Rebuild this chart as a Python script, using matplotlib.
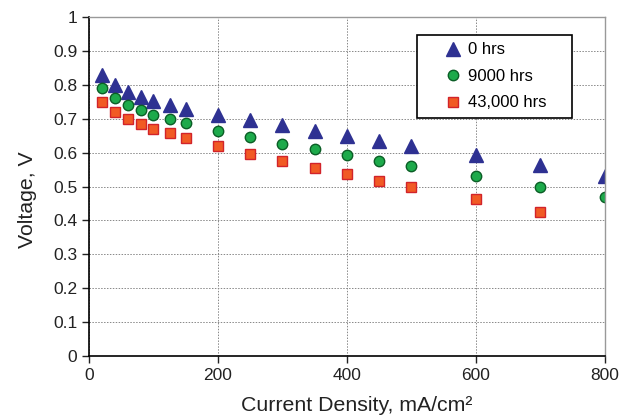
import matplotlib
matplotlib.use("Agg")
import matplotlib.pyplot as plt
from matplotlib.legend_handler import HandlerLine2D

plt.rcParams['font.family'] = ['Liberation Sans', 'DejaVu Sans']

current = [20, 40, 60, 80, 100, 125, 150, 200, 250, 300, 350, 400, 450, 500, 600, 700, 800]
v_0hrs = [0.83, 0.80, 0.78, 0.765, 0.752, 0.74, 0.73, 0.71, 0.695, 0.68, 0.663, 0.648, 0.635, 0.62, 0.592, 0.562, 0.53]
v_9000hrs = [0.79, 0.76, 0.74, 0.725, 0.71, 0.70, 0.686, 0.665, 0.645, 0.625, 0.61, 0.592, 0.576, 0.56, 0.531, 0.50, 0.469]
current_43k = [20, 40, 60, 80, 100, 125, 150, 200, 250, 300, 350, 400, 450, 500, 600, 700]
v_43000hrs = [0.75, 0.72, 0.70, 0.685, 0.67, 0.657, 0.643, 0.62, 0.595, 0.575, 0.555, 0.537, 0.517, 0.50, 0.463, 0.424]

fig = plt.figure(figsize=(6.34, 4.18), dpi=100)
ax = fig.add_axes([0.1404, 0.1483, 0.954 - 0.1404, 0.9593 - 0.1483])

l1, = ax.plot(current, v_0hrs, linestyle='none', marker='^', markersize=9.5,
              color='#2E3192', markeredgecolor='#2E3192', label='0 hrs')
l2, = ax.plot(current, v_9000hrs, linestyle='none', marker='o', markersize=7.5,
              color='#1DAA4B', markeredgecolor='#0B5E26', markeredgewidth=1.0, label='9000 hrs')
l3, = ax.plot(current_43k, v_43000hrs, linestyle='none', marker='s', markersize=7.5,
              color='#F15A24', markeredgecolor='#D2232A', markeredgewidth=1.0, label='43,000 hrs')

ax.set_xlim(0, 800)
ax.set_ylim(0, 1)
ax.set_xticks([0, 200, 400, 600, 800])
ax.set_yticks([i / 10 for i in range(11)])
ax.set_yticklabels(['0', '0.1', '0.2', '0.3', '0.4', '0.5', '0.6', '0.7', '0.8', '0.9', '1'])
ax.grid(True, linestyle=(0, (1.5, 1.5)), color='#888888', linewidth=0.7)
ax.set_axisbelow(True)

ax.tick_params(direction='out', length=5, width=1, labelsize=12.5, colors='#222222')
for s in ['left', 'bottom']:
    ax.spines[s].set_color('black')
    ax.spines[s].set_linewidth(1.2)
for s in ['top', 'right']:
    ax.spines[s].set_color('#999999')
    ax.spines[s].set_linewidth(1.0)

ax.set_xlabel('Current Density, mA/cm²', fontsize=15.3, color='#222222')
ax.set_ylabel('Voltage, V', fontsize=15.3, color='#222222')
ax.xaxis.set_label_coords(0.518, -0.118)
ax.yaxis.set_label_coords(-0.100, 0.46)

hm = {h: HandlerLine2D(numpoints=1, xpad=1.1) for h in (l1, l2, l3)}
leg = ax.legend(handles=[l1, l2, l3], handler_map=hm, loc='upper left',
                bbox_to_anchor=(0.6357, 0.947 - 0.2419, 0.3004, 0.2419), mode='expand',
                fontsize=12, frameon=True, fancybox=False, edgecolor='black', framealpha=1,
                borderpad=0.45, labelspacing=0.69, handlelength=2.3, handletextpad=0.3,
                borderaxespad=0)
leg.get_frame().set_linewidth(1.2)

fig.savefig('out.png', dpi=100)
